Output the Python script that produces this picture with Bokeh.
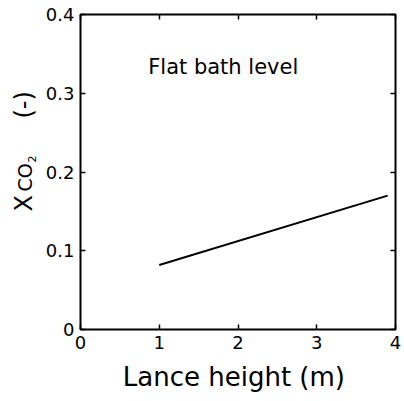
from bokeh.plotting import figure
from bokeh.models import LinearAxis, FixedTicker, Label, Range1d, CustomLabelingPolicy
from bokeh.layouts import row
from bokeh.core.properties import value
from bokeh.embed import file_html
from bokeh.resources import INLINE
import math

# data
lance_height = [1.0, 3.9]
x_co2 = [0.082, 0.170]
x_ticks = [0, 1, 2, 3, 4]
y_ticks = [0, 0.1, 0.2, 0.3, 0.4]
y_tick_labels = ["0", "0.1", "0.2", "0.3", "0.4"]
x_tick_labels = ["0", "1", "2", "3", "4"]
y_label_parts = ["X", "CO", "2", "(-)"]

FONT = "DejaVu Sans"

# narrow figure that carries the y-axis title (X, CO, subscript 2, (-));
# its frame is aligned with the main frame (screen rows 14..329 -> 387..72 from bottom)
lf = figure(width=40, height=401, output_backend="svg", toolbar_location=None,
            x_range=Range1d(0, 40), y_range=Range1d(72, 387),
            min_border=0, x_axis_type=None, y_axis_type=None)
lf.grid.visible = False
lf.outline_line_color = None
lf.text(x=[23, 24, 31, 23], y=[190, 210, 239, 283], text=y_label_parts,
        angle=math.pi / 2, text_font=value(FONT),
        text_font_size=["24px", "19px", "11px", "24px"],
        text_align="left", text_baseline="middle", text_color="black")

p = figure(width=364, height=401, output_backend="svg", toolbar_location=None,
           x_range=Range1d(0, 4), y_range=Range1d(0, 0.4),
           min_border_left=40, min_border_right=9, min_border_top=14, min_border_bottom=72,
           x_axis_type=None, y_axis_type=None)
p.grid.visible = False
p.outline_line_color = "black"
p.outline_line_width = 2

def style(ax, labels=True):
    ax.axis_line_color = None
    ax.major_tick_in = 5
    ax.major_tick_out = 0
    ax.minor_tick_line_color = None
    ax.major_tick_line_color = "black"
    ax.major_tick_line_width = 1.5
    ax.major_label_text_font = FONT
    ax.major_label_text_color = "black"
    if not labels:
        ax.major_label_policy = CustomLabelingPolicy(code="return []")
        ax.major_label_text_font_size = "0px"
        ax.major_label_standoff = 0

xb = LinearAxis(ticker=FixedTicker(ticks=x_ticks),
                major_label_overrides={t: s for t, s in zip(x_ticks, x_tick_labels)})
style(xb)
xb.major_label_text_font_size = "18px"
xb.major_label_standoff = 6
xb.axis_label = "Lance height  (m)"
xb.axis_label_text_font = FONT
xb.axis_label_text_font_size = "26px"
xb.axis_label_text_font_style = "normal"
xb.axis_label_text_color = "black"
xb.axis_label_standoff = 10
p.add_layout(xb, "below")

yl = LinearAxis(ticker=FixedTicker(ticks=y_ticks),
                major_label_overrides={t: s for t, s in zip(y_ticks, y_tick_labels)})
style(yl)
yl.major_label_text_font_size = "18px"
yl.major_label_standoff = 6
p.add_layout(yl, "left")

xt = LinearAxis(ticker=FixedTicker(ticks=x_ticks))
style(xt, labels=False)
p.add_layout(xt, "above")
yr = LinearAxis(ticker=FixedTicker(ticks=y_ticks))
style(yr, labels=False)
p.add_layout(yr, "right")

p.line(lance_height, x_co2, line_color="black", line_width=2)

p.add_layout(Label(x=0.86, y=0.333, text="Flat bath level", text_font=FONT,
                   text_font_size="21px", text_color="black",
                   text_align="left", text_baseline="alphabetic"))

layout = row(lf, p, spacing=0)
open("out.html", "w").write(file_html(layout, INLINE))
